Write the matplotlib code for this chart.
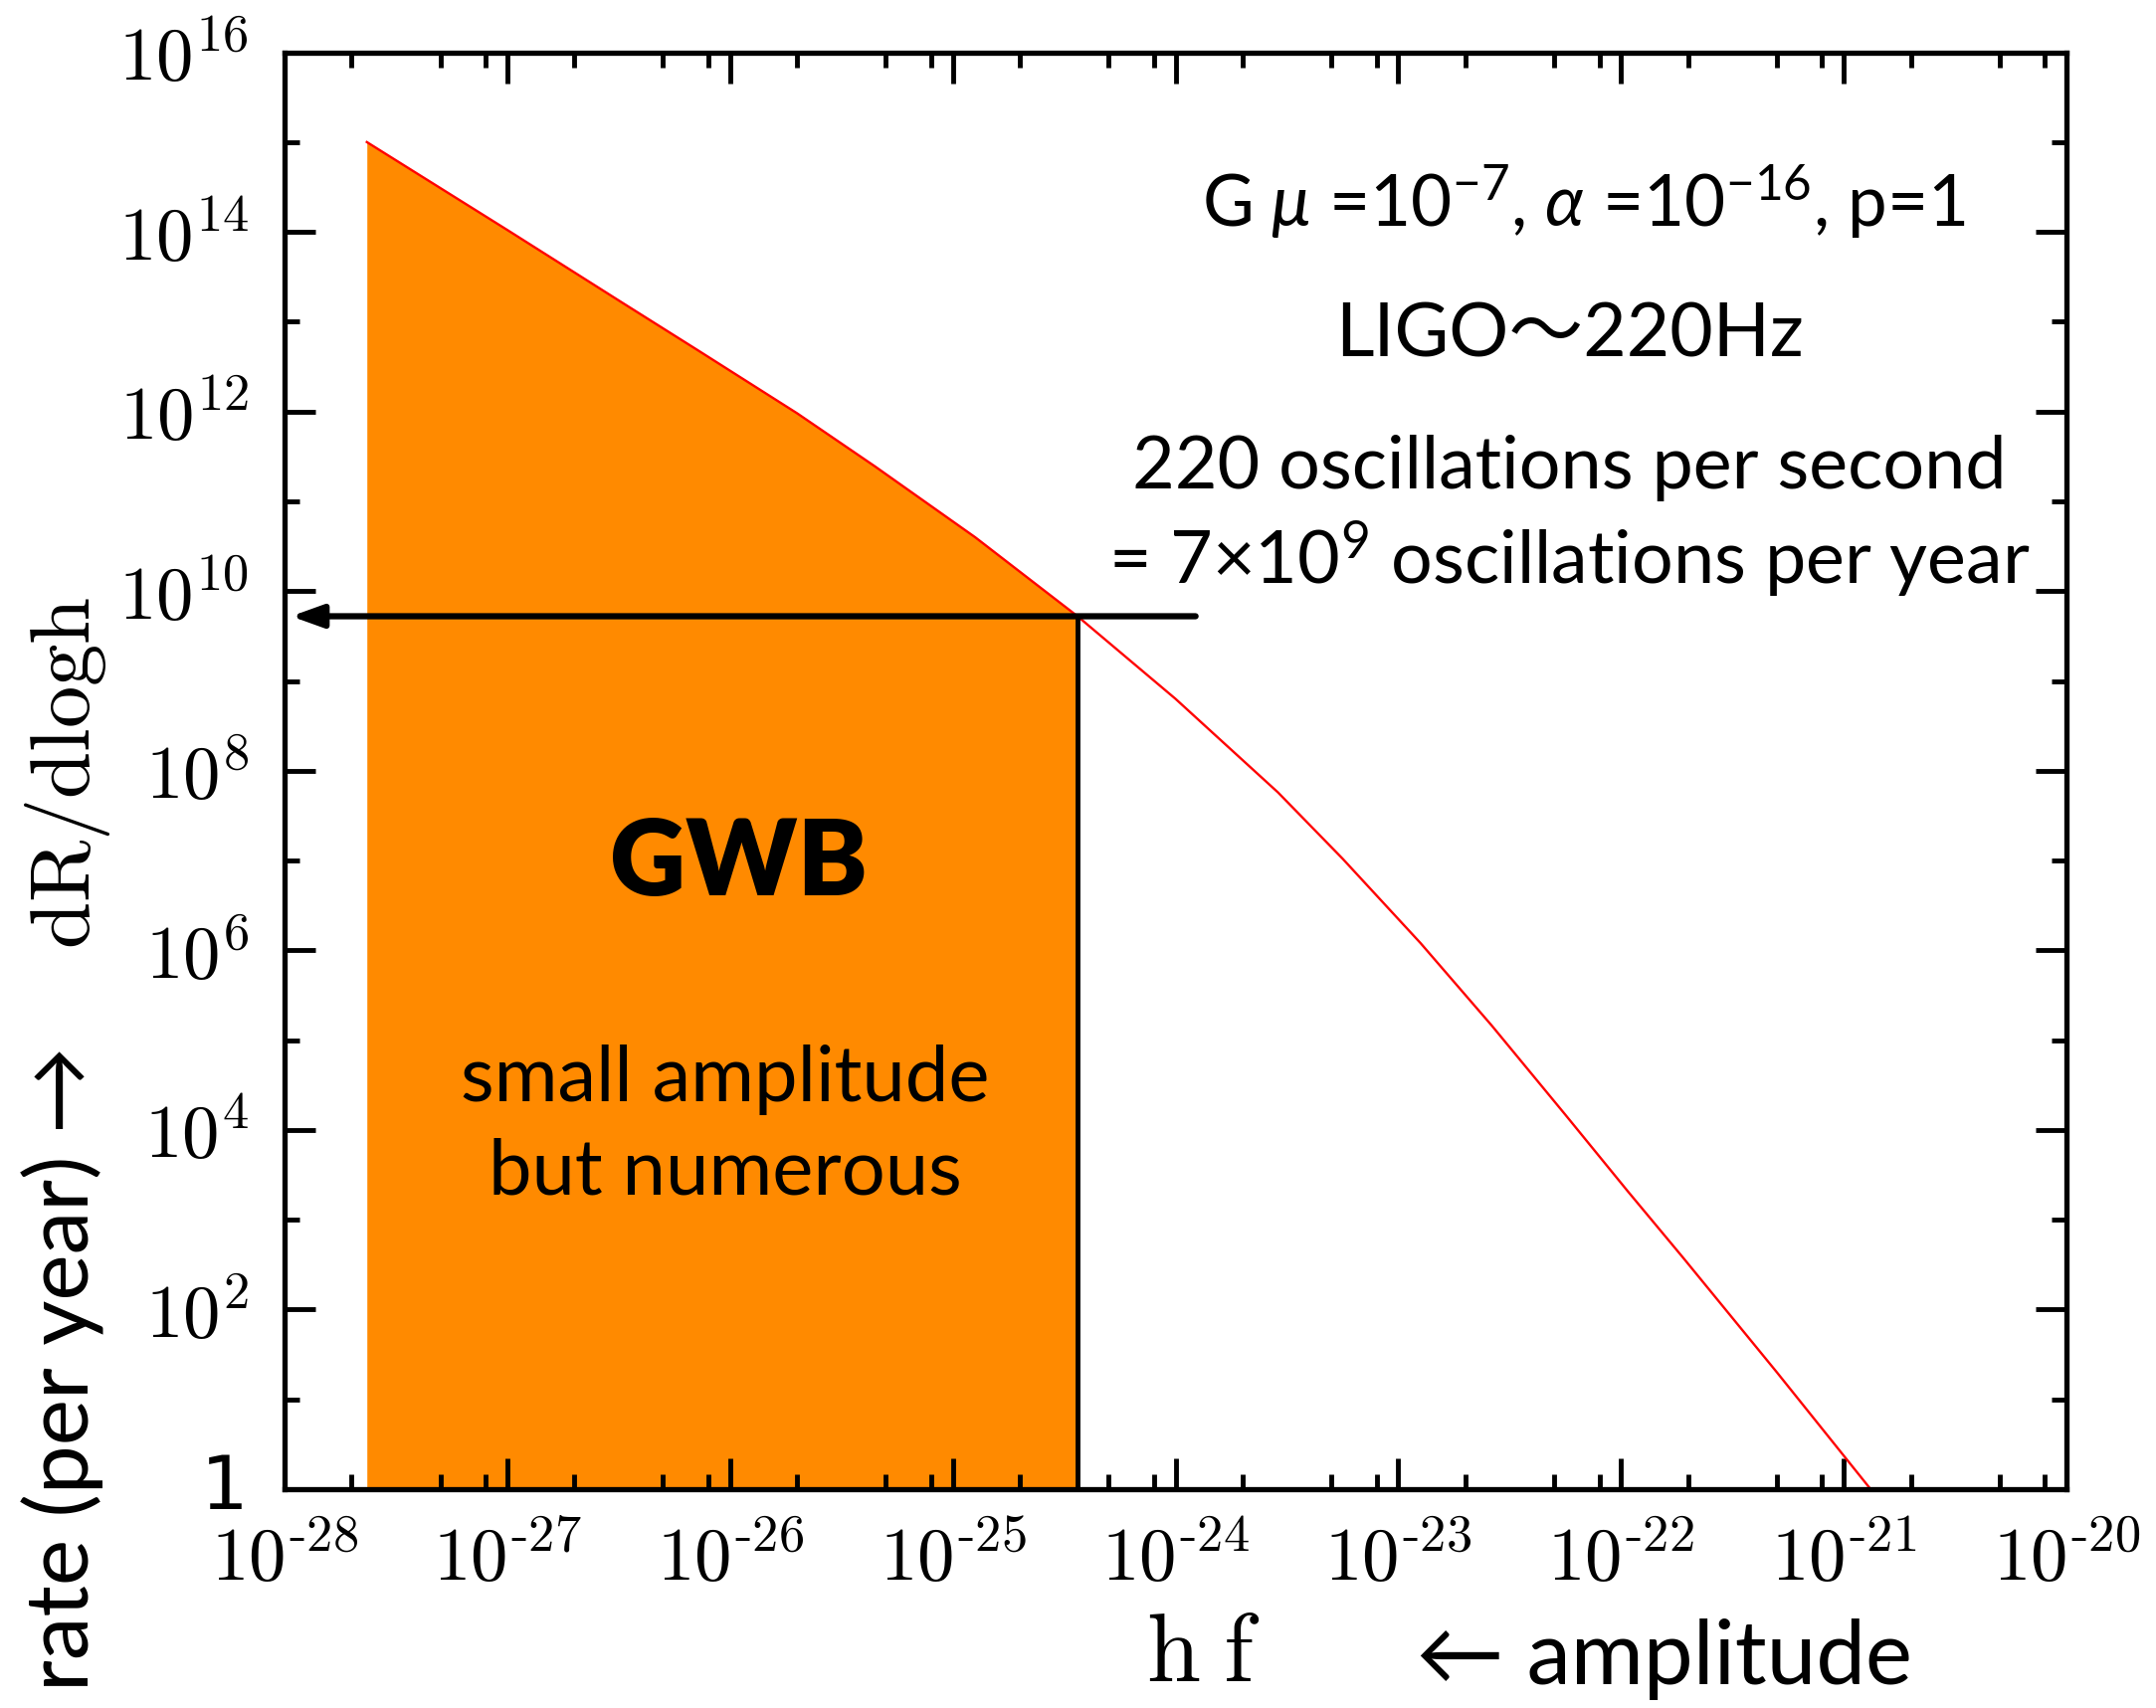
import matplotlib
matplotlib.use('Agg')
import matplotlib.pyplot as plt
import matplotlib.transforms as mtransforms
from matplotlib.ticker import FixedLocator, NullFormatter

# values (log-log curve)
hf = [2.34e-28, 1.0e-27, 3.24e-27, 7.08e-27, 2.0e-26, 4.47e-26, 1.26e-25, 3.63e-25,
      1.0e-24, 2.88e-24, 5.62e-24, 1.26e-23, 2.63e-23, 5.62e-23, 1.07e-22, 1.91e-22,
      5.01e-22, 1.32e-21]
rate = [1.0e15, 1.05e14, 1.66e13, 4.9e12, 9.55e11, 2.45e11, 3.98e10, 5.25e9,
        6.31e8, 5.75e7, 1.05e7, 1.2e6, 1.45e5, 1.48e4, 2.09e3, 372.0,
        20.0, 1.0]

h_ligo = 3.63e-25      # where the GWB region stops
rate_ligo = 5.25e9     # 7x10^9 oscillations per year
arrow_from = 1.23e-24
arrow_to = 1.07e-28

x_exps = list(range(-28, -19))
y_exps = list(range(0, 17, 2))
x_ticklabels = [r'$10^{\text{-}%d}$' % -e for e in x_exps]
y_ticklabels = ['1'] + [r'$10^{%d}$' % e for e in y_exps[1:]]

plt.rcParams['mathtext.fontset'] = 'cm'
plt.rcParams['mathtext.rm'] = 'Lato'
plt.rcParams['mathtext.it'] = 'Lato:italic'
plt.rcParams['mathtext.bf'] = 'Lato:bold'
sans = ['Lato', 'Noto Sans CJK JP', 'DejaVu Sans']

fig = plt.figure(figsize=(21.67, 17.17), dpi=100)
ax = fig.add_axes([0.132, 0.1281, 0.8265, 0.8413])

ax.set_xscale('log')
ax.set_yscale('log')
ax.set_xlim(1e-28, 1e-20)
ax.set_ylim(1, 1e16)

# shaded region up to the LIGO amplitude
cut = hf.index(h_ligo) + 1
ax.fill_between(hf[:cut], rate[:cut], 1, color='#FF8A00', lw=0, zorder=1)
ax.plot(hf, rate, color='#FF0000', lw=1.7, zorder=2, solid_joinstyle='round')
ax.plot([h_ligo, h_ligo], [1, rate_ligo], color='black', lw=3.5, zorder=3)
ax.annotate('', xy=(arrow_to, rate_ligo), xytext=(arrow_from, rate_ligo),
            arrowprops=dict(arrowstyle='-|>,head_length=0.5,head_width=0.18',
                            lw=4.5, color='black', shrinkA=0, shrinkB=0,
                            mutation_scale=38), zorder=4)

# ticks
ax.xaxis.set_major_locator(FixedLocator([10.0**e for e in x_exps]))
ax.xaxis.set_minor_locator(FixedLocator([m * 10.0**e for e in x_exps[:-1] for m in (2, 5, 8)]))
ax.yaxis.set_major_locator(FixedLocator([10.0**e for e in y_exps]))
ax.yaxis.set_minor_locator(FixedLocator([10.0**e for e in range(1, 16, 2)]))
ax.set_xticklabels(x_ticklabels)
ax.set_yticklabels(y_ticklabels)
ax.xaxis.set_minor_formatter(NullFormatter())
ax.yaxis.set_minor_formatter(NullFormatter())
ax.tick_params(which='both', direction='in', top=True, right=True, width=3.5, colors='black')
ax.tick_params(which='major', length=22)
ax.tick_params(which='minor', length=11)
ax.tick_params(axis='x', which='major', labelsize=54, pad=25)
ax.tick_params(axis='y', which='major', labelsize=54, pad=26)
for s in ax.spines.values():
    s.set_linewidth(3.8)

# nudge the "1" up a little so it clears the 10^-28 label
one = ax.yaxis.get_major_ticks()[0].label1
one.set_transform(one.get_transform() + mtransforms.ScaledTranslation(0, 6 / 72, fig.dpi_scale_trans))

# axis labels
fig.text(0.558, 0.016, r'$\mathrm{h\;f}$', fontsize=70, ha='center', va='baseline', math_fontfamily='cm')
fig.text(0.772, 0.014, '\u2190 amplitude', fontsize=64, ha='center', va='baseline', family=sans)
fig.text(0.0415, 0.010, 'rate (per year) \u2192', fontsize=63, rotation=90,
         rotation_mode='anchor', ha='left', va='baseline', family=sans)
fig.text(0.0415, 0.4444, r'$\mathrm{dR/dlogh}$', fontsize=61, rotation=90,
         rotation_mode='anchor', ha='left', va='baseline', math_fontfamily='cm')

# annotations
kw = dict(transform=ax.transAxes, ha='center', va='center', family=sans, math_fontfamily='custom')
ax.text(0.729, 0.896, r'G $\mathit{\mu}$ =10$^{-7}$, $\mathit{\alpha}$ =10$^{-16}$, p=1', fontsize=51, **kw)
ax.text(0.721, 0.803, 'LIGO\u301c220Hz', fontsize=54, **kw)
ax.text(0.721, 0.711, '220 oscillations per second', fontsize=53, **kw)
ax.text(0.721, 0.647, r'= 7$\times$10$^{9}$ oscillations per year', fontsize=53, **kw)
ax.text(0.255, 0.435, 'GWB', fontsize=76, fontweight='heavy', **kw)
ax.text(0.247, 0.285, 'small amplitude', fontsize=56, **kw)
ax.text(0.247, 0.220, 'but numerous', fontsize=56, **kw)

fig.savefig('out.png', dpi=100)
